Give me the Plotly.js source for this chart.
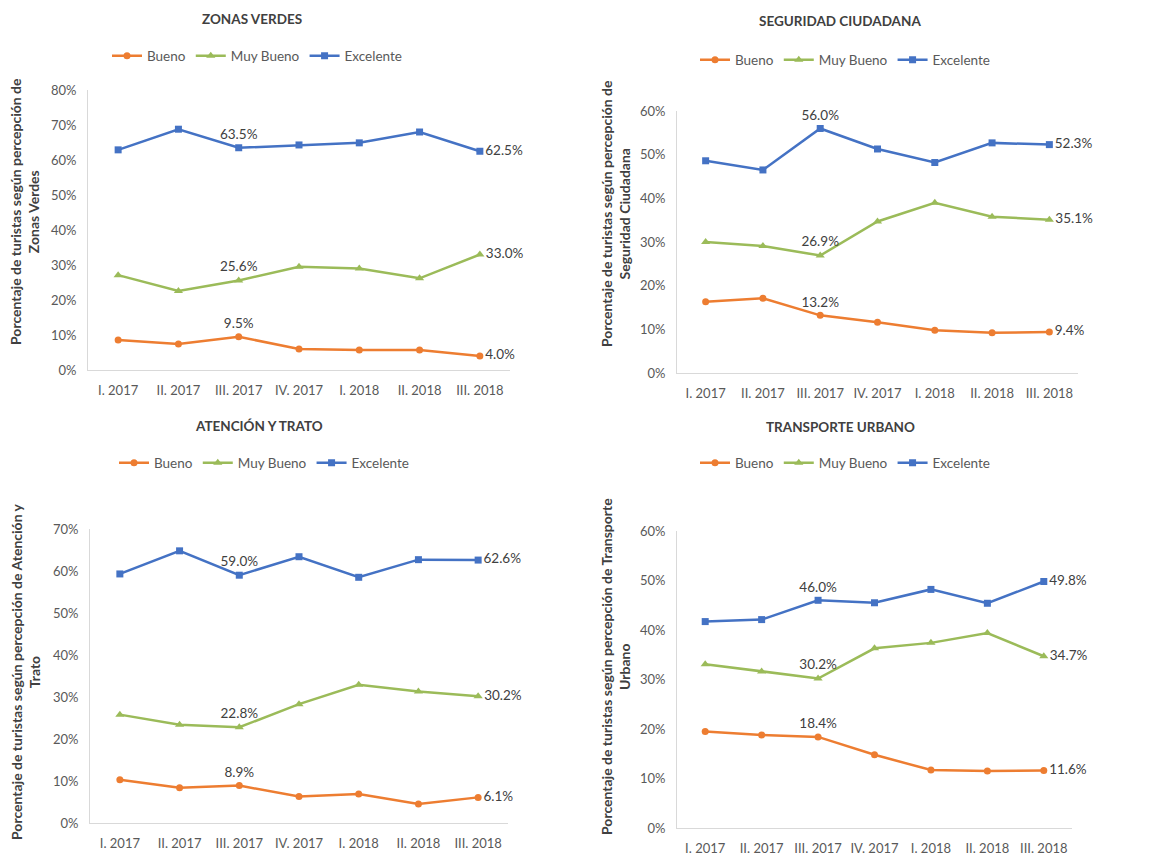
<!DOCTYPE html>
<html><head><meta charset="utf-8">
<script src="https://cdn.plot.ly/plotly-3.0.1.min.js"></script>
<style>html,body{margin:0;padding:0;background:#fff}#chart{width:1173px;height:861px}</style>
</head><body><div id="chart"></div>
<script>
const categories = ['I. 2017','II. 2017','III. 2017','IV. 2017','I. 2018','II. 2018','III. 2018'];
const seriesNames = ['Bueno','Muy Bueno','Excelente'];

const panelTitles = ['ZONAS VERDES','SEGURIDAD CIUDADANA','ATENCIÓN Y TRATO','TRANSPORTE URBANO'];
const yTitles = [
  'Porcentaje de turistas según percepción de<br>Zonas Verdes',
  'Porcentaje de turistas según percepción de<br>Seguridad Ciudadana',
  'Porcentaje de turistas según percepción de Atención y<br>Trato',
  'Porcentaje de turistas según percepción de Transporte<br>Urbano'
];
const yMax = [80, 60, 70, 60];

const zonasBueno      = [8.6, 7.4, 9.5, 6.0, 5.7, 5.7, 4.0];
const zonasMuyBueno   = [27.1, 22.6, 25.6, 29.5, 29.0, 26.2, 33.0];
const zonasExcelente  = [62.9, 68.8, 63.5, 64.3, 64.9, 68.0, 62.5];

const seguridadBueno     = [16.3, 17.1, 13.2, 11.6, 9.8, 9.2, 9.4];
const seguridadMuyBueno  = [30.0, 29.1, 26.9, 34.7, 39.0, 35.8, 35.1];
const seguridadExcelente = [48.6, 46.5, 56.0, 51.3, 48.2, 52.7, 52.3];

const atencionBueno     = [10.3, 8.4, 8.9, 6.3, 6.9, 4.5, 6.1];
const atencionMuyBueno  = [25.8, 23.4, 22.8, 28.3, 32.9, 31.3, 30.2];
const atencionExcelente = [59.3, 64.8, 59.0, 63.4, 58.5, 62.7, 62.6];

const transporteBueno     = [19.5, 18.8, 18.4, 14.8, 11.7, 11.5, 11.6];
const transporteMuyBueno  = [33.1, 31.6, 30.2, 36.3, 37.4, 39.4, 34.7];
const transporteExcelente = [41.7, 42.1, 46.0, 45.5, 48.2, 45.4, 49.8];

const labeledIdx = [2, 6];

const panels = [
  [zonasBueno, zonasMuyBueno, zonasExcelente],
  [seguridadBueno, seguridadMuyBueno, seguridadExcelente],
  [atencionBueno, atencionMuyBueno, atencionExcelente],
  [transporteBueno, transporteMuyBueno, transporteExcelente]
];

const colors = ['#ED7D31', '#9BBB59', '#4472C4'];
const symbols = ['circle', 'triangle-up', 'square'];
const W = 1173, H = 861;
// plot boxes in px: [left, right, top, bottom]
const boxes = [[88, 510, 90, 370], [677, 1078, 111, 373], [90, 508, 529, 823], [677, 1072, 531, 828]];
const titlePos = [[252, 19], [840, 21], [259, 426], [840, 427]];
const legendPos = [[257, 56], [845, 60], [264, 463], [845, 463]];
const yTitlePos = [[25, 212], [616, 214], [25, 672], [615, 667]];

const FONT = 'Lato, "Open Sans", sans-serif';
const traces = [];
const layout = {
  width: W, height: H, margin: {l: 0, r: 0, t: 0, b: 0},
  paper_bgcolor: '#fff', plot_bgcolor: '#fff',
  font: {family: FONT, color: '#595959', size: 13},
  showlegend: true, annotations: []
};

panels.forEach((series, p) => {
  const sfx = p === 0 ? '' : String(p + 1);
  const lg = p === 0 ? 'legend' : 'legend' + (p + 1);
  const b = boxes[p];
  series.forEach((vals, s) => {
    traces.push({
      type: 'scatter', mode: 'lines+markers+text',
      x: categories, y: vals, name: seriesNames[s],
      xaxis: 'x' + sfx, yaxis: 'y' + sfx, legend: lg,
      line: {color: colors[s], width: 2.5},
      marker: {color: colors[s], symbol: symbols[s], size: s === 1 ? 8 : 7},
      text: vals.map((v, i) => labeledIdx.includes(i) ? v.toFixed(1) + '%' : ''),
      textposition: vals.map((v, i) => i === 6 ? 'middle right' : 'top center'),
      textfont: {family: FONT, size: 13.5, color: '#404040'},
      cliponaxis: false, hoverinfo: 'x+y'
    });
  });
  layout['xaxis' + sfx] = {
    domain: [b[0] / W, b[1] / W], anchor: 'y' + sfx, type: 'category',
    range: [-0.5, 6.5], showline: true, linecolor: '#D9D9D9', linewidth: 1,
    showgrid: false, zeroline: false, ticks: '', tickfont: {size: 13, color: '#595959'},
    ticklabelstandoff: 8, fixedrange: true
  };
  layout['yaxis' + sfx] = {
    domain: [1 - b[3] / H, 1 - b[2] / H], anchor: 'x' + sfx,
    range: [0, yMax[p]], dtick: 10, ticksuffix: '%', showline: true,
    linecolor: '#D9D9D9', linewidth: 1, showgrid: false, zeroline: false,
    ticks: '', tickfont: {size: 13, color: '#595959'}, ticklabelstandoff: 8, fixedrange: true
  };
  layout[lg] = {
    orientation: 'h', x: legendPos[p][0] / W, xanchor: 'center',
    y: 1 - legendPos[p][1] / H, yanchor: 'middle', itemwidth: 30,
    bgcolor: 'rgba(0,0,0,0)', font: {size: 13.5, color: '#595959'},
    itemclick: false, itemdoubleclick: false
  };
  layout.annotations.push({
    xref: 'paper', yref: 'paper', x: titlePos[p][0] / W, y: 1 - titlePos[p][1] / H,
    xanchor: 'center', yanchor: 'middle', showarrow: false,
    text: '<b>' + panelTitles[p] + '</b>', font: {size: 13.5, color: '#404040', family: FONT}
  });
  layout.annotations.push({
    xref: 'paper', yref: 'paper', x: yTitlePos[p][0] / W, y: 1 - yTitlePos[p][1] / H,
    xanchor: 'center', yanchor: 'middle', showarrow: false, textangle: -90,
    text: '<b>' + yTitles[p] + '</b>', font: {size: 14, color: '#404040', family: FONT}
  });
});

Plotly.newPlot('chart', traces, layout, {displayModeBar: false, staticPlot: false});
</script>
</body></html>
